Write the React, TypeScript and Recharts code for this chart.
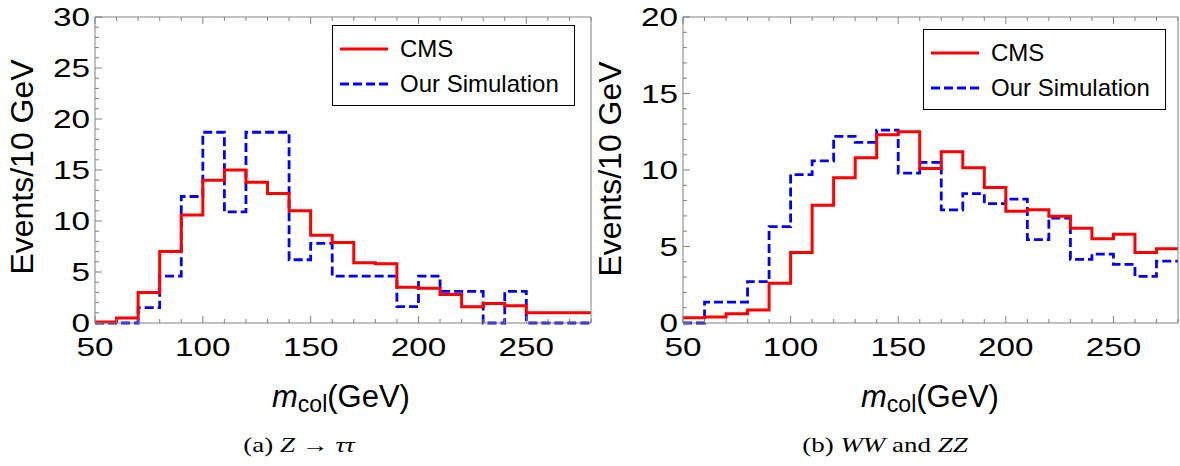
import { ComposedChart, Line, XAxis, YAxis, Legend } from 'recharts'

// bin edges in GeV; the final edge repeats the last bin so the step closes at 280
const binEdges = [50, 60, 70, 80, 90, 100, 110, 120, 130, 140, 150, 160, 170, 180, 190, 200, 210, 220, 230, 240, 250, 260, 270, 280]

// (a) Z -> tau tau, events / 10 GeV
const cmsZ = [0.1, 0.5, 3.0, 7.0, 10.6, 14.0, 15.0, 13.8, 12.7, 11.0, 8.6, 7.9, 5.9, 5.8, 3.5, 3.4, 2.8, 1.6, 1.9, 1.7, 1.0, 1.0, 1.0]
const simZ = [0, 0, 1.5, 4.6, 12.4, 18.7, 10.9, 18.7, 18.7, 6.2, 7.8, 4.6, 4.6, 4.6, 1.6, 4.6, 3.1, 3.1, 0, 3.1, 0, 0, 0]

// (b) WW and ZZ, events / 10 GeV
const cmsVV = [0.35, 0.4, 0.6, 0.85, 2.6, 4.6, 7.7, 9.5, 10.8, 12.3, 12.5, 10.1, 11.2, 10.15, 8.85, 7.3, 7.4, 6.97, 6.2, 5.5, 5.8, 4.6, 4.86]
const simVV = [0, 1.37, 1.37, 2.7, 6.3, 9.7, 10.6, 12.2, 11.8, 12.6, 9.8, 10.5, 7.4, 8.45, 7.8, 8.1, 5.45, 6.86, 4.16, 4.5, 3.83, 3.05, 4.05]

const xTicks = [50, 60, 70, 80, 90, 100, 110, 120, 130, 140, 150, 160, 170, 180, 190, 200, 210, 220, 230, 240, 250, 260, 270, 280]
const xLabels = [50, 100, 150, 200, 250]
const yTicksZ = [0, 1, 2, 3, 4, 5, 6, 7, 8, 9, 10, 11, 12, 13, 14, 15, 16, 17, 18, 19, 20, 21, 22, 23, 24, 25, 26, 27, 28, 29, 30]
const yTicksVV = [0, 1, 2, 3, 4, 5, 6, 7, 8, 9, 10, 11, 12, 13, 14, 15, 16, 17, 18, 19, 20]
const yLabels = [0, 5, 10, 15, 20, 25, 30]

const legendOrder = ['CMS', 'Our Simulation']

const H = 466
const sans = '"Liberation Sans", Arial, sans-serif'
const serif = '"Liberation Serif", "Times New Roman", serif'
const frame = '#808080'

const toRows = (cms: number[], sim: number[]) =>
  binEdges.map((x, i) => ({
    x,
    cms: cms[Math.min(i, cms.length - 1)],
    sim: sim[Math.min(i, sim.length - 1)],
  }))

function LegendBox({ payload }: any) {
  const items = legendOrder
    .map((name) => (payload || []).find((p: any) => p.value === name))
    .filter(Boolean)
  return (
    <div style={{ position: 'relative', width: 243, height: 81, boxSizing: 'border-box', border: '1.5px solid #000', background: '#fff', fontFamily: sans, fontSize: 24 }}>
      {items.map((p: any, i: number) => (
        <div key={p.value} style={{ position: 'absolute', left: 0, top: 23 + i * 35 - 16, height: 32, display: 'flex', alignItems: 'center' }}>
          <svg width={56} height={8} style={{ marginLeft: 7 }}>
            <line x1={0} x2={48} y1={4} y2={4} stroke={p.color} strokeWidth={3} strokeDasharray={p.payload?.strokeDasharray} />
          </svg>
          <span style={{ marginLeft: 4, color: '#000', whiteSpace: 'nowrap' }}>{p.value}</span>
        </div>
      ))}
    </div>
  )
}

interface PanelProps {
  data: { x: number; cms: number; sim: number }[]
  yMax: number
  yTicks: number[]
  left: number
  width: number
  plot: { top: number; right: number; bottom: number; left: number }
  legendAt: { left: number; top: number }
}

// axes are 1px thick so Recharts still renders them; margins absorb that pixel
function Panel({ data, yMax, yTicks, left, width, plot, legendAt }: PanelProps) {
  const top = plot.top
  const bottom = plot.bottom
  const pl = plot.left
  const pr = plot.right
  const margin = { top: top - 1, bottom: H - bottom - 1, left: pl - 1, right: width - pr - 1 }

  const bottomTick = (p: any) => {
    const v = p.payload.value
    const major = xLabels.includes(v)
    return (
      <g>
        <line x1={p.x} x2={p.x} y1={bottom} y2={bottom - (major ? 7 : 4)} stroke={frame} />
        {major && (
          <text transform={`translate(${p.x},${bottom + 33}) scale(1.28,1)`} textAnchor="middle" fontSize={26} fontFamily={sans} fill="#000">
            {v}
          </text>
        )}
      </g>
    )
  }
  const topTick = (p: any) => {
    const major = xLabels.includes(p.payload.value)
    return <line x1={p.x} x2={p.x} y1={top} y2={top + (major ? 7 : 4)} stroke={frame} />
  }
  const leftTick = (p: any) => {
    const v = p.payload.value
    const major = yLabels.includes(v)
    return (
      <g>
        <line x1={pl} x2={pl + (major ? 7 : 4)} y1={p.y} y2={p.y} stroke={frame} />
        {major && (
          <text transform={`translate(${pl - 5},${p.y}) scale(1.28,1)`} dy="0.36em" textAnchor="end" fontSize={26} fontFamily={sans} fill="#000">
            {v}
          </text>
        )}
      </g>
    )
  }
  const rightTick = (p: any) => {
    const major = yLabels.includes(p.payload.value)
    return <line x1={pr} x2={pr - (major ? 7 : 4)} y1={p.y} y2={p.y} stroke={frame} />
  }

  return (
    <div style={{ position: 'absolute', left, top: 0 }}>
      <ComposedChart width={width} height={H} data={data} margin={margin}>
        <XAxis dataKey="x" type="number" domain={[50, 280]} ticks={xTicks} interval={0} height={1}
          tickLine={false} axisLine={{ stroke: frame }} tick={bottomTick} />
        <XAxis xAxisId="top" orientation="top" dataKey="x" type="number" domain={[50, 280]} ticks={xTicks} interval={0} height={1}
          tickLine={false} axisLine={{ stroke: frame }} tick={topTick} />
        <YAxis type="number" domain={[0, yMax]} ticks={yTicks} interval={0} width={1}
          tickLine={false} axisLine={{ stroke: frame }} tick={leftTick} />
        <YAxis yAxisId="right" orientation="right" type="number" domain={[0, yMax]} ticks={yTicks} interval={0} width={1}
          tickLine={false} axisLine={{ stroke: frame }} tick={rightTick} />
        <Line type="stepAfter" dataKey="sim" name="Our Simulation" stroke="#0000ff" strokeWidth={2.8}
          strokeDasharray="9 4" dot={false} activeDot={false} isAnimationActive={false} />
        <Line type="stepAfter" dataKey="cms" name="CMS" stroke="#ff0000" strokeWidth={3}
          dot={false} activeDot={false} isAnimationActive={false} />
        <Legend layout="vertical" align="center" verticalAlign="middle" width={243} height={81}
          wrapperStyle={{ left: legendAt.left, top: legendAt.top }} content={<LegendBox />} />
      </ComposedChart>
    </div>
  )
}

function XTitle({ cx }: { cx: number }) {
  return (
    <text x={cx} y={407} textAnchor="middle" fontFamily={sans} fontSize={31} fill="#000">
      <tspan fontStyle="italic">m</tspan>
      <tspan fontSize={23} dy={5}>col</tspan>
      <tspan dy={-5}>(GeV)</tspan>
    </text>
  )
}

export default function App() {
  return (
    <div style={{ position: 'absolute', left: 0, top: 0, width: 1180, height: H, background: '#fff', overflow: 'hidden' }}>
      <Panel data={toRows(cmsZ, simZ)} yMax={30} yTicks={yTicksZ} left={0} width={595}
        plot={{ top: 17, bottom: 323, left: 95, right: 591 }} legendAt={{ left: 332, top: 25 }} />
      <Panel data={toRows(cmsVV, simVV)} yMax={20} yTicks={yTicksVV} left={590} width={590}
        plot={{ top: 17, bottom: 323, left: 93, right: 588 }} legendAt={{ left: 333, top: 29 }} />
      <svg width={1180} height={H} style={{ position: 'absolute', left: 0, top: 0, pointerEvents: 'none' }}>
        <text transform="translate(33,167) rotate(-90)" textAnchor="middle" fontFamily={sans} fontSize={32} fill="#000">Events/10 GeV</text>
        <text transform="translate(621,169) rotate(-90)" textAnchor="middle" fontFamily={sans} fontSize={32} fill="#000">Events/10 GeV</text>
        <XTitle cx={341} />
        <XTitle cx={930} />
        <text transform="translate(299,452) scale(1.35,1)" textAnchor="middle" fontFamily={serif} fontSize={20} fill="#000">
          (a) <tspan fontStyle="italic">Z</tspan> → <tspan fontStyle="italic">ττ</tspan>
        </text>
        <text transform="translate(885,452) scale(1.35,1)" textAnchor="middle" fontFamily={serif} fontSize={20} fill="#000">
          (b) <tspan fontStyle="italic">WW</tspan> and <tspan fontStyle="italic">ZZ</tspan>
        </text>
      </svg>
    </div>
  )
}
